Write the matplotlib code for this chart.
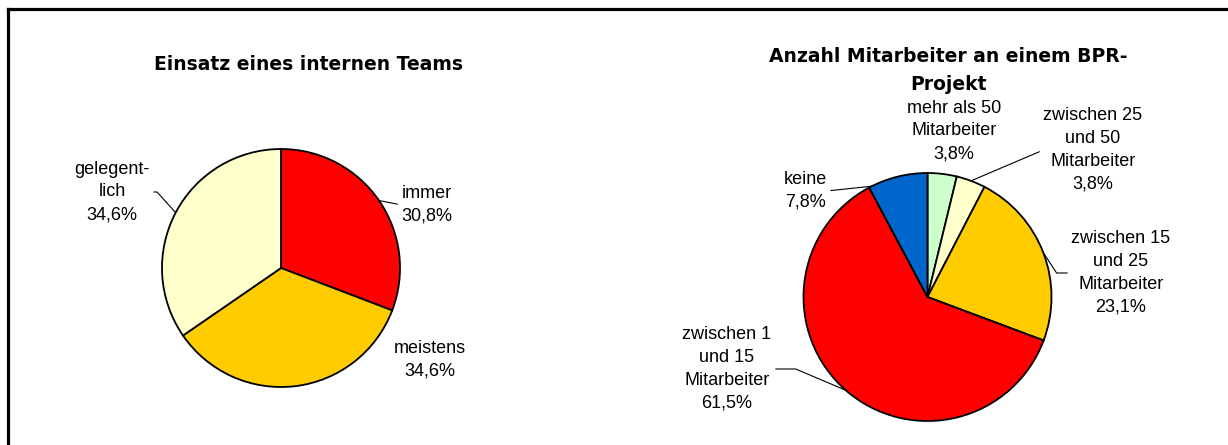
import matplotlib.pyplot as plt
from matplotlib.lines import Line2D
import numpy as np

plt.rcParams['font.family'] = ['Liberation Sans', 'DejaVu Sans']

# left chart: Einsatz eines internen Teams
team_labels = ['immer\n30,8%', 'meistens\n34,6%', 'gelegent-\nlich\n34,6%']
team_values = [30.8, 34.6, 34.6]
team_colors = ['#FF0000', '#FFCC00', '#FFFFCC']

# right chart: Anzahl Mitarbeiter an einem BPR-Projekt
staff_labels = ['mehr als 50\nMitarbeiter\n3,8%',
                'zwischen 25\nund 50\nMitarbeiter\n3,8%',
                'zwischen 15\nund 25\nMitarbeiter\n23,1%',
                'zwischen 1\nund 15\nMitarbeiter\n61,5%',
                'keine\n7,8%']
staff_values = [3.8, 3.8, 23.1, 61.5, 7.8]
staff_colors = ['#CCFFCC', '#FFFFCC', '#FFCC00', '#FF0000', '#0066CC']

W, H = 1228, 445
fig = plt.figure(figsize=(W / 100, H / 100), dpi=100)

# frame of the original sheet (only top and left edge visible)
fig.add_artist(Line2D([7.5 / W, 1], [1 - 8.5 / H, 1 - 8.5 / H], color='black', lw=2.3))
fig.add_artist(Line2D([7.5 / W, 7.5 / W], [0, 1 - 8.5 / H], color='black', lw=2.3))

PAD = 1.04


def pie_axes(cx, cy, r):
    ra = r * PAD
    return fig.add_axes([(cx - ra) / W, (H - cy - ra) / H, 2 * ra / W, 2 * ra / H])


def draw_pie(ax, values, colors, labels, opts):
    wedges, _ = ax.pie(values, colors=colors, startangle=90, counterclock=False,
                       wedgeprops=dict(edgecolor='black', linewidth=1.3))
    ax.set_xlim(-PAD, PAD)
    ax.set_ylim(-PAD, PAD)
    for w, lab, (tx, ty, frac, conn, rel) in zip(wedges, labels, opts):
        ang = np.deg2rad(w.theta1 + frac * (w.theta2 - w.theta1))
        xy = (np.cos(ang), np.sin(ang))
        kw = dict(ha='center', va='center', fontsize=13, linespacing=1.45)
        if conn is None:
            fig.text(tx / W, 1 - ty / H, lab, **kw)
            continue
        ax.annotate(lab, xy=xy, xycoords='data', xytext=(tx, H - ty),
                    textcoords='figure pixels',
                    arrowprops=dict(arrowstyle='-', color='black', lw=0.8,
                                    shrinkA=1, shrinkB=0, relpos=rel,
                                    connectionstyle=conn),
                    **kw)


ax1 = pie_axes(281, 268, 119)
draw_pie(ax1, team_values, team_colors, team_labels, [
    (427, 205, 0.5, 'arc3', (0, 0.5)),
    (430, 360, 0.5, None, None),
    (112, 192, 0.5, 'angle,angleA=0,angleB=132,rad=0', (1, 0.5)),
])

ax2 = pie_axes(927.5, 297, 124)
draw_pie(ax2, staff_values, staff_colors, staff_labels, [
    (954, 131, 0.5, None, None),
    (1093, 150, 0.5, 'arc3', (0, 0.5)),
    (1121, 273, 0.5, 'angle,angleA=0,angleB=-57,rad=0', (0, 0.5)),
    (727, 369, 0.5, 'angle,angleA=0,angleB=157,rad=0', (1, 0.5)),
    (805, 191, 0.95, 'arc3', (1, 0.5)),
])

fig.text(309 / W, 1 - 64 / H, 'Einsatz eines internen Teams', ha='center', va='center',
         fontsize=13.5, fontweight='bold', family='DejaVu Sans')
fig.text(948 / W, 1 - 70 / H, 'Anzahl Mitarbeiter an einem BPR-\nProjekt', ha='center',
         va='center', fontsize=13.5, fontweight='bold', family='DejaVu Sans', linespacing=1.6)

fig.savefig('out.png', dpi=100)
